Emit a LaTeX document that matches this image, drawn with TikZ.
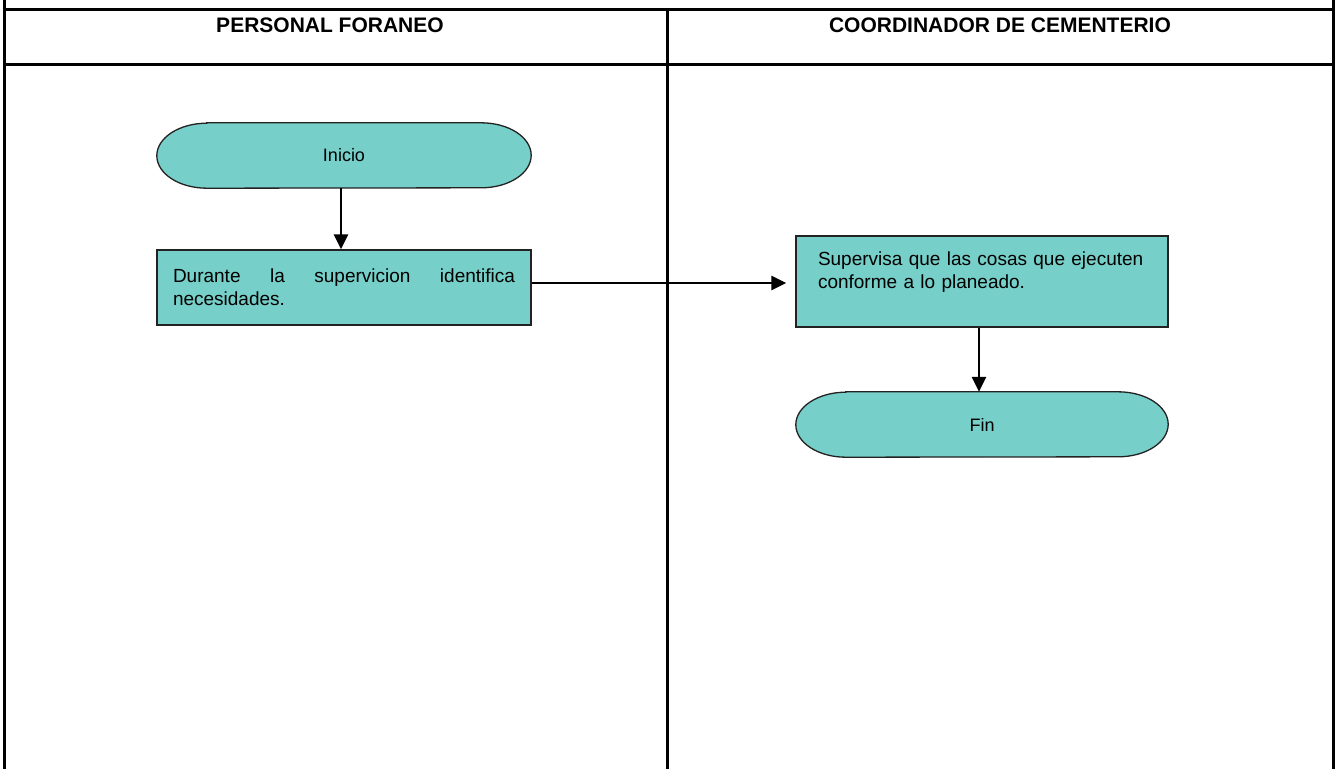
\documentclass[tikz,border=0pt]{standalone}
\usepackage{fontspec}
\setmainfont{Liberation Sans}
\usetikzlibrary{arrows.meta,calc,backgrounds}
\definecolor{flujoTurquesa}{HTML}{76CFC8}
\definecolor{flujoBorde}{HTML}{222222}
\newcommand{\cuerpo}{\fontsize{19}{23}\selectfont}
\newcommand{\sinCortes}{\hyphenpenalty=10000\exhyphenpenalty=10000}
\tikzset{
  marco/.style={line width=3pt, black},
  encabezado/.style={font=\fontsize{21}{24}\selectfont\bfseries, inner sep=0pt},
  terminalTexto/.style={rectangle, minimum width=374pt, minimum height=65pt,
    inner sep=0pt, font=\fontsize{18}{22}\selectfont},
  terminal/.style={draw=flujoBorde, fill=flujoTurquesa, line width=1.3pt},
  actividad/.style={rectangle, draw=flujoBorde, fill=flujoTurquesa, line width=1.3pt,
    inner sep=0pt, font=\cuerpo\sinCortes},
  flechaFlujo/.style={-{Triangle[length=15pt,width=14pt]}, line width=2.8pt, black},
}

\begin{document}
\begin{tikzpicture}[x=1pt, y=1pt]
    \useasboundingbox (0,0) rectangle (1336,-769);
    % tabla de carriles
    \foreach \x in {4,1333}
      \draw[marco] (\x,0) -- (\x,-769);
    \draw[marco] (667,-9) -- (667,-769);
    \foreach \y in {9,64}
      \draw[marco] (4,-\y) -- (1333,-\y);
    \node[encabezado] (carrilA) at (330,-25) {PERSONAL FORANEO};
    \node[encabezado] (carrilB) at (1000,-25) {COORDINADOR DE CEMENTERIO};

    \node[terminalTexto] (ini) at (344,-155.5) {Inicio};
    \node[actividad, minimum width=374pt, minimum height=75pt, text width=342pt,
      align=justify] (act1) at (344,-287.5)
      {Durante la supervicion identifica\linebreak necesidades.};
    \node[actividad, minimum width=372pt, minimum height=91pt, text width=328pt,
      align=left] (act2) at (982,-281.5)
      {Supervisa que las cosas que ejecuten\\conforme a lo planeado.\\\mbox{}};
    \node[terminalTexto, minimum width=372pt] (fin) at (982,-424.5) {Fin};

    \begin{scope}[on background layer]
      \foreach \t in {ini,fin}
        \path[terminal] ([xshift=50pt]\t.north west) -- ([xshift=-50pt]\t.north east)
          arc[start angle=90, end angle=-90, x radius=50pt, y radius=32.5pt]
          -- ([xshift=50pt]\t.south west)
          arc[start angle=270, end angle=90, x radius=50pt, y radius=32.5pt] -- cycle;
    \end{scope}

    \draw[flechaFlujo] ([xshift=-3pt]ini.south) -- ([xshift=-3pt]act1.north);
    \draw[flechaFlujo, shorten >=9pt] ([yshift=4.5pt]act1.east) -- ([yshift=4.5pt]act1.east -| act2.west);
    \draw[flechaFlujo] ([xshift=-3pt]act2.south) -- ([xshift=-3pt]fin.north);
  \end{tikzpicture}
\end{document}
